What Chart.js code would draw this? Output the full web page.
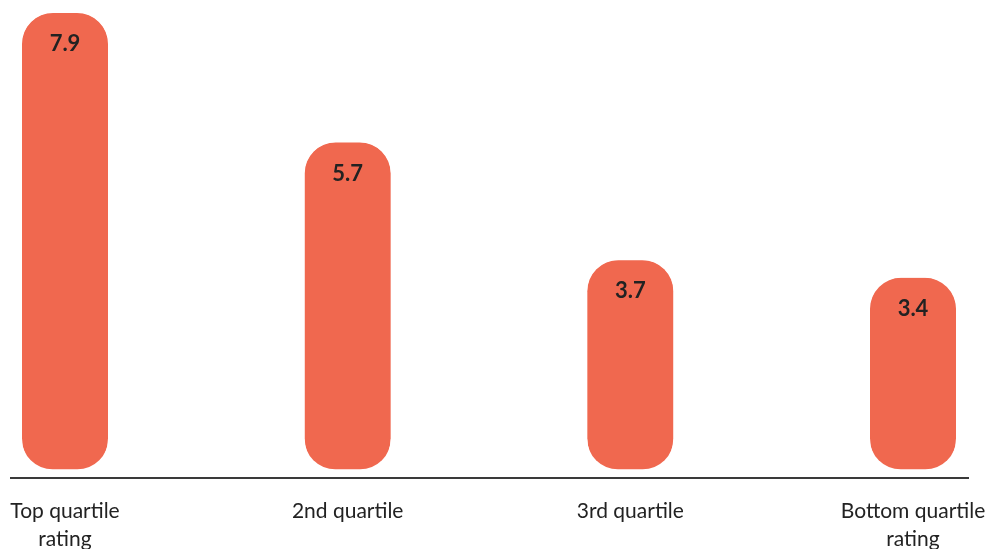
<!DOCTYPE html>
<html>
<head>
<meta charset="utf-8">
<script src="https://cdn.jsdelivr.net/npm/chart.js@4"></script>
<style>
  html, body { margin: 0; padding: 0; background: #ffffff; }
  #wrap { width: 997px; height: 549px; }
</style>
</head>
<body>
<div id="wrap"><canvas id="myChart" width="997" height="549"></canvas></div>
<script>
//  chart data
const categories = [
    ['Top quartile', 'rating'],
    '2nd quartile',
    '3rd quartile',
    ['Bottom quartile', 'rating']
]
const values = [7.9, 5.7, 3.7, 3.4]
const valueLabels = ['7.9', '5.7', '3.7', '3.4']

const barColor = '#f0684f'
const textColor = '#222222'

//  draws the long baseline and the numbers on top of each bar
const decorPlugin = {
    id: 'decor',
    afterDatasetsDraw(chart) {
        const ctx = chart.ctx
        const area = chart.chartArea
        ctx.save()
        ctx.strokeStyle = '#3a3a3a'
        ctx.lineWidth = 2
        ctx.beginPath()
        ctx.moveTo(area.left - 55, area.bottom)
        ctx.lineTo(area.right + 56, area.bottom)
        ctx.stroke()

        ctx.fillStyle = textColor
        ctx.font = 'bold 22px Lato'
        ctx.textAlign = 'center'
        ctx.textBaseline = 'middle'
        chart.getDatasetMeta(0).data.forEach((bar, i) => {
            ctx.fillText(valueLabels[i], bar.x, bar.y + 31)
        })
        ctx.restore()
    }
}

const ctx = document.getElementById('myChart')

new Chart(ctx, {
    type: 'bar',
    data: {
        labels: categories,
        datasets: [{
            data: values,
            clip: false,
            backgroundColor: barColor,
            borderColor: 'rgba(0,0,0,0)',
            borderWidth: { top: 0, left: 0, right: 0, bottom: 9 },
            borderSkipped: false,
            borderRadius: { topLeft: 31, topRight: 31, bottomLeft: 40, bottomRight: 40 },
            barThickness: 86
        }]
    },
    options: {
        responsive: false,
        animation: false,
        layout: {
            padding: { left: 65, right: 84, top: 7, bottom: 0 }
        },
        plugins: {
            legend: { display: false },
            tooltip: { enabled: false }
        },
        scales: {
            x: {
                offset: false,
                grid: { display: false, drawTicks: false },
                border: { display: false },
                ticks: {
                    padding: 20,
                    color: textColor,
                    font: { family: 'Lato', size: 21, lineHeight: 1.3 },
                    maxRotation: 0,
                    autoSkip: false
                },
                afterFit(scale) {
                    scale.height = 71
                    scale.paddingLeft = 0
                    scale.paddingRight = 0
                }
            },
            y: {
                display: false,
                min: 0,
                max: 8
            }
        }
    },
    plugins: [decorPlugin]
})
</script>
</body>
</html>
